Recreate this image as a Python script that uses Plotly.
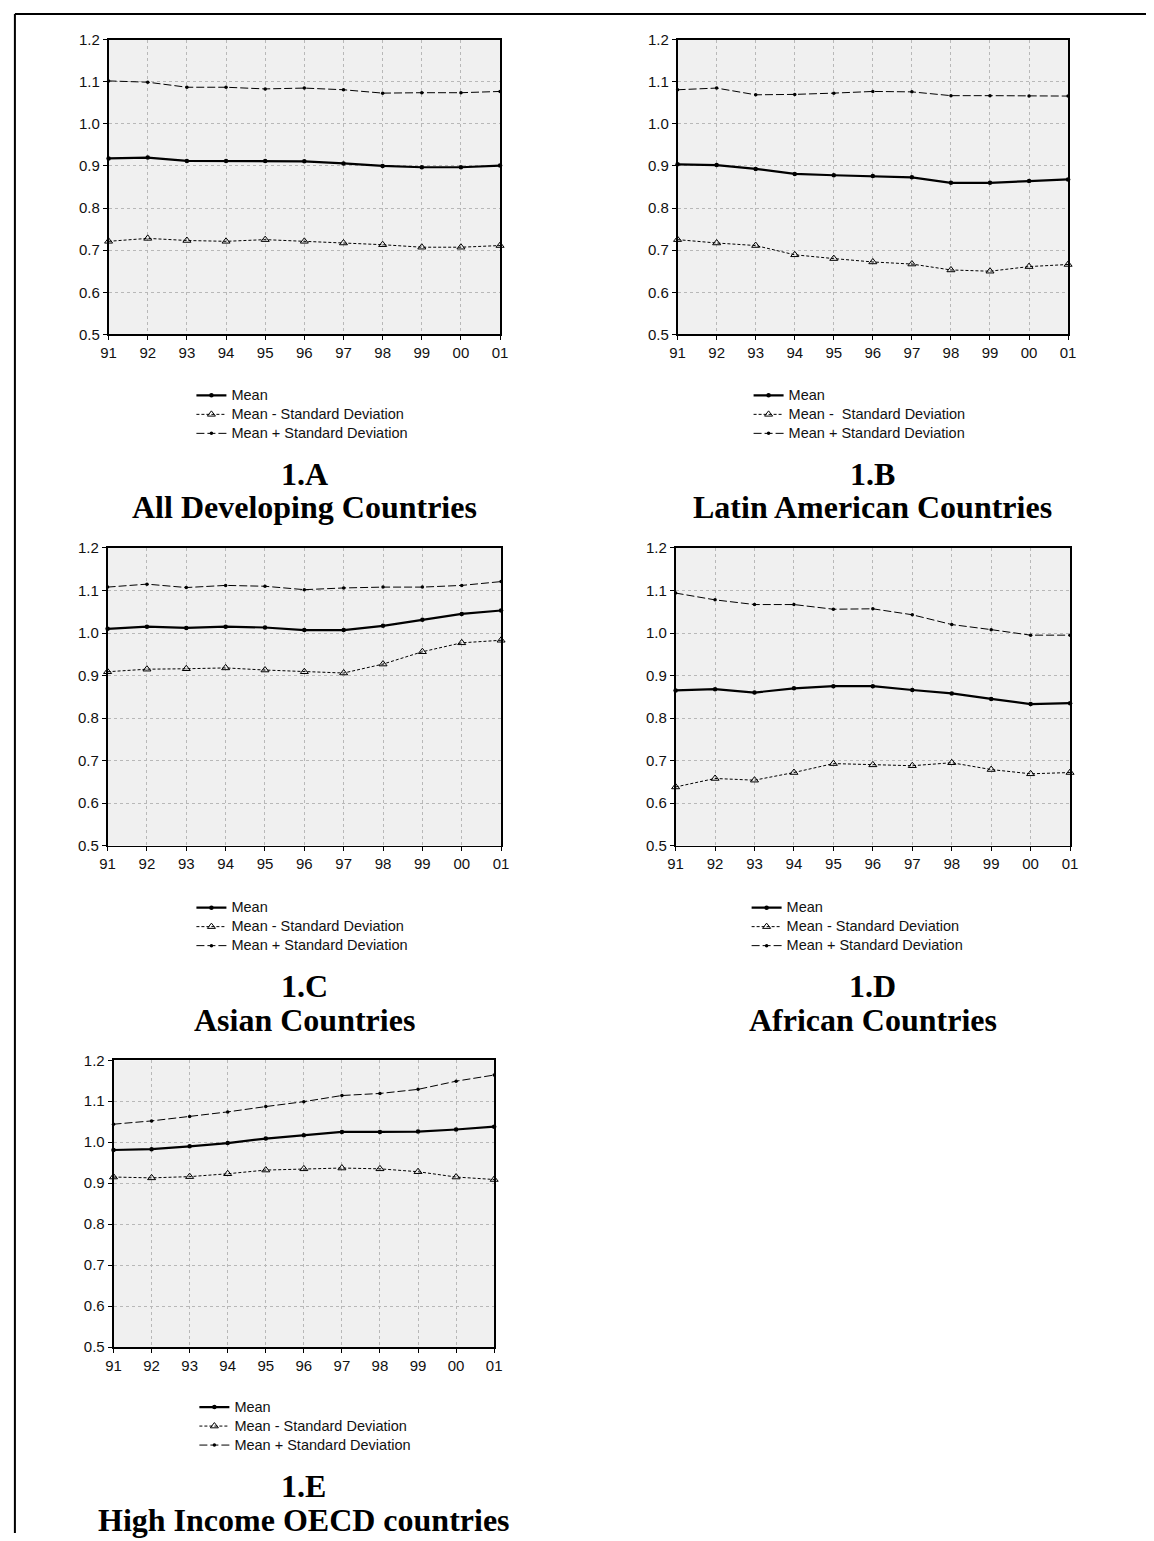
import plotly.graph_objects as go

W, H = 1154, 1541

years = ["91", "92", "93", "94", "95", "96", "97", "98", "99", "00", "01"]
y_ticks = [0.5, 0.6, 0.7, 0.8, 0.9, 1.0, 1.1, 1.2]
y_ticktext = ["0.5", "0.6", "0.7", "0.8", "0.9", "1.0", "1.1", "1.2"]

A_mean = [0.918, 0.920, 0.912, 0.912, 0.912, 0.911, 0.906, 0.900, 0.897, 0.897, 0.901]
A_lower = [0.721, 0.728, 0.723, 0.721, 0.725, 0.721, 0.717, 0.713, 0.707, 0.707, 0.711]
A_upper = [1.102, 1.099, 1.087, 1.087, 1.083, 1.085, 1.081, 1.073, 1.074, 1.074, 1.077]

B_mean = [0.904, 0.902, 0.893, 0.881, 0.878, 0.876, 0.873, 0.860, 0.860, 0.864, 0.868]
B_lower = [0.725, 0.717, 0.711, 0.689, 0.680, 0.672, 0.667, 0.653, 0.650, 0.661, 0.666]
B_upper = [1.081, 1.085, 1.069, 1.070, 1.073, 1.077, 1.076, 1.067, 1.067, 1.066, 1.066]

C_mean = [1.010, 1.015, 1.012, 1.015, 1.013, 1.007, 1.007, 1.017, 1.031, 1.045, 1.053]
C_lower = [0.909, 0.915, 0.916, 0.918, 0.913, 0.909, 0.906, 0.927, 0.956, 0.977, 0.983]
C_upper = [1.108, 1.115, 1.107, 1.112, 1.110, 1.102, 1.106, 1.108, 1.108, 1.112, 1.121]

D_mean = [0.865, 0.868, 0.860, 0.870, 0.875, 0.875, 0.866, 0.858, 0.845, 0.833, 0.835]
D_lower = [0.638, 0.658, 0.654, 0.672, 0.693, 0.690, 0.688, 0.695, 0.679, 0.669, 0.672]
D_upper = [1.094, 1.078, 1.067, 1.067, 1.056, 1.057, 1.043, 1.020, 1.008, 0.995, 0.995]

E_mean = [0.981, 0.983, 0.990, 0.998, 1.009, 1.017, 1.025, 1.025, 1.026, 1.031, 1.038]
E_lower = [0.915, 0.913, 0.916, 0.923, 0.932, 0.935, 0.937, 0.935, 0.928, 0.915, 0.909]
E_upper = [1.044, 1.052, 1.063, 1.074, 1.087, 1.099, 1.114, 1.119, 1.129, 1.149, 1.164]

panel_codes = ["1.A", "1.B", "1.C", "1.D", "1.E"]
panel_names = ["All Developing Countries", "Latin American Countries", "Asian Countries",
               "African Countries", "High Income OECD countries"]
label_mean = "Mean"
label_lower = ["Mean - Standard Deviation", "Mean -  Standard Deviation", "Mean - Standard Deviation",
               "Mean - Standard Deviation", "Mean - Standard Deviation"]
label_upper = "Mean + Standard Deviation"

series = [(A_mean, A_lower, A_upper), (B_mean, B_lower, B_upper), (C_mean, C_lower, C_upper),
          (D_mean, D_lower, D_upper), (E_mean, E_lower, E_upper)]

# plot-area boxes in pixels: (left, right, top, bottom)
boxes = [(102, 499, 31, 329), (679, 1075, 31, 329), (101, 500, 545, 846),
         (677, 1077, 545, 846), (107, 493, 1063, 1353)]
# legend anchor (left, top) in px
legend_pos = [(186, 376), (751, 376), (186, 894), (749, 894), (189, 1399)]
# title centers (y of code line, y of name line)
title_y = [(470, 504), (470, 504), (988, 1022), (988, 1022), (1493, 1528)]

def px_x(x):
    return x / W

def px_y(y):
    return 1 - y / H

def legend_text(s):
    return f'<span style="font-size:14.5px">{s}</span>'

fig = go.Figure()
layout = dict(
    width=W, height=H, autosize=False,
    margin=dict(l=0, r=0, t=0, b=0),
    paper_bgcolor="white", plot_bgcolor="#f0f0f0",
    showlegend=True,
    font=dict(family="Arial, Liberation Sans, sans-serif", size=15, color="#111"),
)
annotations = []
shapes = []

for i, (m, lo, up) in enumerate(series):
    n = i + 1
    xa = "x" if n == 1 else f"x{n}"
    ya = "y" if n == 1 else f"y{n}"
    lg = "legend" if n == 1 else f"legend{n}"
    l, r, t, b = boxes[i]
    fig.add_trace(go.Scatter(x=years, y=m, name=legend_text(label_mean), xaxis=xa, yaxis=ya, legend=lg,
                             mode="lines+markers", cliponaxis=False,
                             line=dict(color="black", width=2.2),
                             marker=dict(symbol="circle", size=4.5, color="black")))
    fig.add_trace(go.Scatter(x=years, y=lo, name=legend_text(label_lower[i]), xaxis=xa, yaxis=ya, legend=lg,
                             mode="lines+markers", cliponaxis=False,
                             line=dict(color="black", width=1, dash="3px,2px"),
                             marker=dict(symbol="triangle-up-open", size=7, color="black",
                                         line=dict(width=1))))
    fig.add_trace(go.Scatter(x=years, y=up, name=legend_text(label_upper), xaxis=xa, yaxis=ya, legend=lg,
                             mode="lines+markers", cliponaxis=False,
                             line=dict(color="black", width=1, dash="8px,3px"),
                             marker=dict(symbol="circle", size=3.5, color="black")))
    axkey_x = "xaxis" if n == 1 else f"xaxis{n}"
    axkey_y = "yaxis" if n == 1 else f"yaxis{n}"
    layout[axkey_x] = dict(
        domain=[px_x(l), px_x(r)], anchor=ya, type="category", range=[0, 10],
        showline=True, mirror=True, linecolor="black", linewidth=1.8,
        ticks="outside", ticklen=4, tickcolor="black", tickwidth=1,
        showgrid=True, gridcolor="#b8b8b8", griddash="dot", gridwidth=1,
        tickfont=dict(size=15, color="#111"), zeroline=False, fixedrange=True,
    )
    layout[axkey_y] = dict(
        domain=[px_y(b), px_y(t)], anchor=xa, range=[0.5, 1.2],
        tickvals=y_ticks, ticktext=y_ticktext,
        showline=True, mirror=True, linecolor="black", linewidth=1.8,
        ticks="outside", ticklen=4, tickcolor="black", tickwidth=1,
        showgrid=True, gridcolor="#b8b8b8", griddash="dot", gridwidth=1,
        tickfont=dict(size=15, color="#111"), zeroline=False, fixedrange=True,
    )
    lx, ly = legend_pos[i]
    layout[lg] = dict(
        x=px_x(lx), y=px_y(ly), xanchor="left", yanchor="top",
        bgcolor="rgba(0,0,0,0)", borderwidth=0,
        font=dict(family="Arial, Liberation Sans, sans-serif", size=12.3, color="#111"),
        tracegroupgap=0, itemwidth=30,
    )
    cx = (l + r) / 2
    ty1, ty2 = title_y[i]
    annotations.append(dict(text=f"<b>{panel_codes[i]}</b>", x=px_x(cx), y=px_y(ty1),
                            xref="paper", yref="paper", showarrow=False,
                            xanchor="center", yanchor="middle",
                            font=dict(family="Times New Roman, Liberation Serif, serif",
                                      size=32, color="black")))
    annotations.append(dict(text=f"<b>{panel_names[i]}</b>", x=px_x(cx), y=px_y(ty2),
                            xref="paper", yref="paper", showarrow=False,
                            xanchor="center", yanchor="middle",
                            font=dict(family="Times New Roman, Liberation Serif, serif",
                                      size=32, color="black")))

# page frame (top and left rules)
shapes.append(dict(type="line", xref="paper", yref="paper", x0=px_x(7), x1=1, y0=px_y(5), y1=px_y(5),
                   line=dict(color="black", width=2)))
shapes.append(dict(type="line", xref="paper", yref="paper", x0=px_x(7), x1=px_x(7), y0=px_y(5), y1=0,
                   line=dict(color="black", width=2)))

layout["annotations"] = annotations
layout["shapes"] = shapes
fig.update_layout(**layout)
fig.write_html("out.html",
               config={"displayModeBar": False, "staticPlot": True},
               post_script="document.body.style.margin='0';"
                           "document.documentElement.style.overflow='hidden';"
                           "document.body.style.overflow='hidden';")
